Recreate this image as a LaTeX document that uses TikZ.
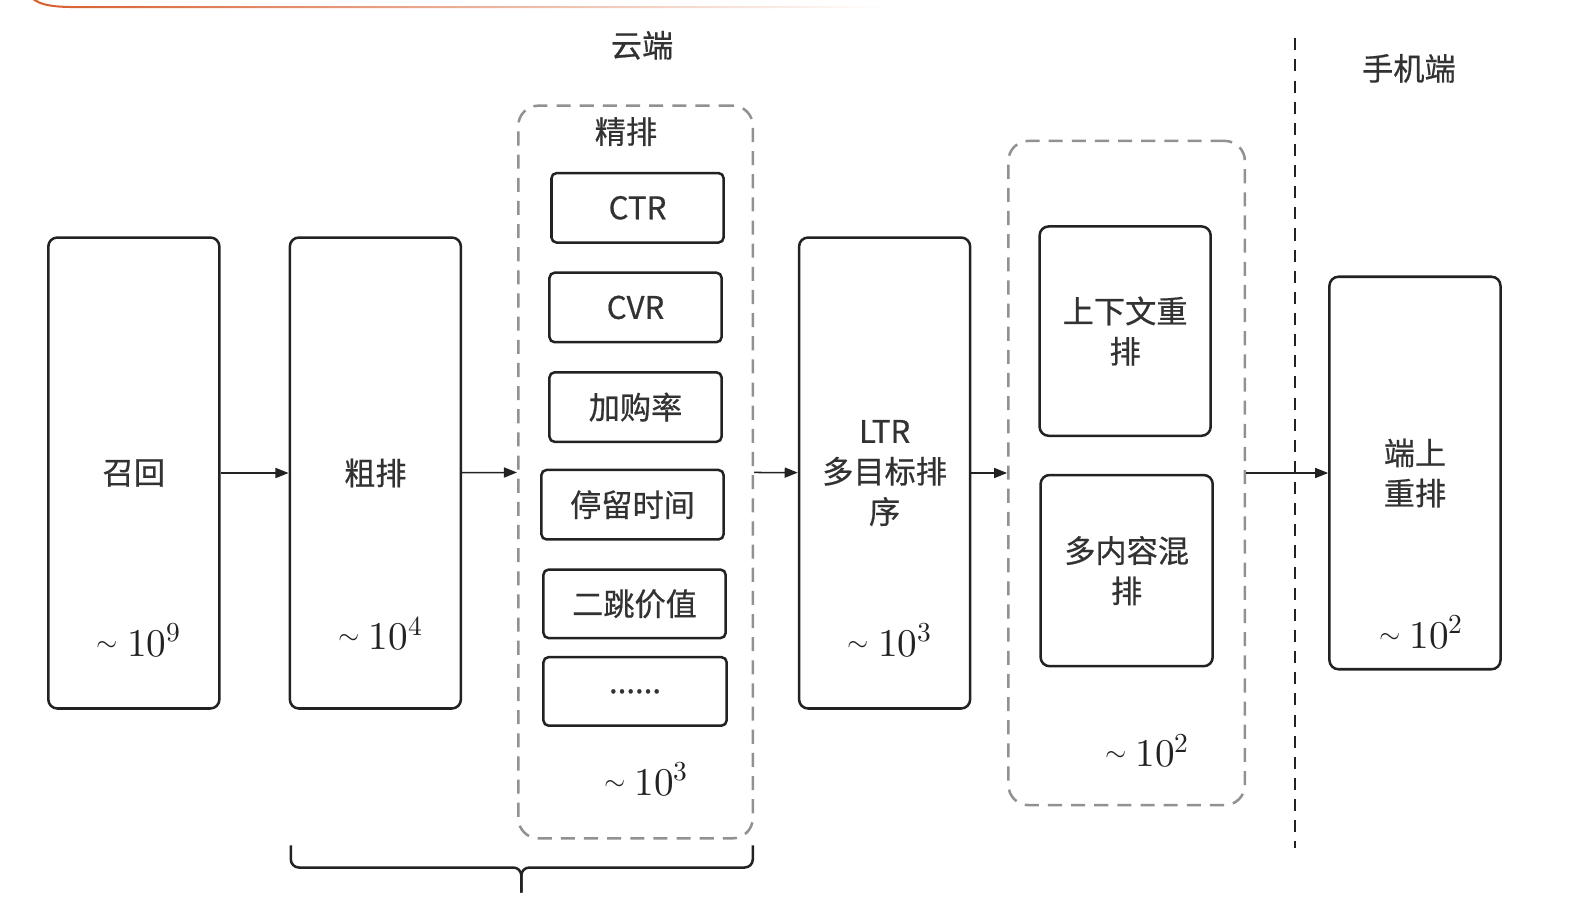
\documentclass[tikz,border=0pt]{standalone}
\usepackage{fontspec}
\usepackage{unicode-math}
\setmainfont[FakeBold=0.6]{Noto Sans CJK SC}
\setmathfont{Latin Modern Math}
\usetikzlibrary{positioning, arrows.meta, calc, fadings}
\definecolor{ink}{RGB}{34,34,34}
\definecolor{txtgray}{RGB}{50,50,50}
\definecolor{grpgray}{RGB}{145,145,145}
\definecolor{slideor}{RGB}{214,92,42}
\newcommand{\lblfont}{\fontsize{31}{40}\selectfont}
\newcommand{\cntfont}{\fontsize{39}{40}\selectfont}
\newcommand{\approxcnt}[1]{\raisebox{5pt}{$\scriptstyle\sim$}\hspace{9pt}$10^{#1}$}

\begin{document}
\begin{tikzpicture}[
    x=1pt, y=-1pt,
    stage/.style = {draw=ink, line width=2.5pt, rounded corners=9pt,
                    minimum width=170pt, minimum height=468pt,
                    align=center, text=txtgray, font=\lblfont},
    model/.style = {draw=ink, line width=2.5pt, rounded corners=5pt,
                    minimum width=171pt, minimum height=69pt,
                    text=txtgray, font=\lblfont},
    group/.style = {draw=grpgray, line width=2.5pt,
                    dash pattern=on 14pt off 9pt, rounded corners=20pt},
    tag/.style   = {text=txtgray, font=\lblfont},
    cnt/.style   = {text=ink, font=\cntfont},
    arr/.style   = {-{Triangle[length=13pt,width=10pt]}, line width=1.5pt, ink},
    divider/.style = {ink, line width=2.5pt, dash pattern=on 12pt off 9pt},
    brace/.style = {ink, line width=2.5pt, rounded corners=8pt},
  ]
    \useasboundingbox (0,0) rectangle (1568,910);
    % slide header line
    \draw[slideor, line width=2pt, path fading=east]
      (28,-6) .. controls (36,4) and (48,7) .. (75,7) -- (880,7);

    % cloud side
    \node[stage] (recall) at (133,470) {召回};
    \node[stage] (coarse) at (373,470) {粗排};

    \node[group, minimum width=233pt, minimum height=728pt] (fine) at (631.5,469) {};
    \node[tag] (fineTag) at ([xshift=-9.5pt,yshift=-27pt]fine.north) {精排};
    \node[model] (ctr)   at (633.5,206.5) {CTR};
    \node[model] (cvr)   at (631.5,305.5) {CVR};
    \node[model] (cart)  at (631.5,404.5) {加购率};
    \node[model, minimum width=181pt] (dwell) at (628.5,501.5) {停留时间};
    \node[model, minimum width=181pt, minimum height=68pt] (jump) at (630.5,600) {二跳价值};
    \node[model, minimum width=182pt, minimum height=68pt] (more) at (631,687) {......};

    \node[stage] (ltr) at (879,470) {LTR\\多目标排\\序};

    \node[group, minimum width=235pt, minimum height=660pt] (rerank) at (1119.5,470) {};
    \node[stage, minimum height=208pt] (ctx) at (1118,329) {上下文重\\排};
    \node[stage, minimum width=171pt, minimum height=190pt] (mixed) at (1119.5,567) {多内容混\\排};

    % device side
    \node[stage, minimum height=390pt] (device) at (1406,470) {端上\\重排};

    % counts
    \node[cnt] at ([xshift=5pt,yshift=69pt]recall.south) {\approxcnt{9}};
    \node[cnt] at ([xshift=5pt,yshift=76pt]coarse.south) {\approxcnt{4}};
    \node[cnt] at ([xshift=10.5pt,yshift=60pt]fine.south) {\approxcnt{3}};
    \node[cnt] at ([xshift=5pt,yshift=69pt]ltr.south) {\approxcnt{3}};
    \node[cnt] at ([xshift=20.5pt,yshift=55pt]rerank.south) {\approxcnt{2}};
    \node[cnt] at ([xshift=6pt,yshift=38pt]device.south) {\approxcnt{2}};

    % titles
    \node[tag] (cloud) at (638,45) {云端};
    \node[tag] (phone) at (1400,68) {手机端};
    \draw[divider] (1287,38) -- (1287,843);

    \draw[arr] (recall) -- (coarse);
    \draw[arr] (coarse) -- (fine);
    \draw[arr] (fine)   -- (ltr);
    \draw[arr] (ltr)    -- (rerank);
    \draw[arr] (rerank) -- (device);

    % brace under coarse + fine ranking
    \coordinate (braceL) at (289,840);
    \coordinate (braceR) at (748,840);
    \coordinate (braceTip) at (518,887);
    \draw[brace] (braceL) |- ($(braceTip)+(0,-25)$) -- (braceTip);
    \draw[brace] (braceR) |- ($(braceTip)+(0,-25)$) -- (braceTip);
\end{tikzpicture}
\end{document}
